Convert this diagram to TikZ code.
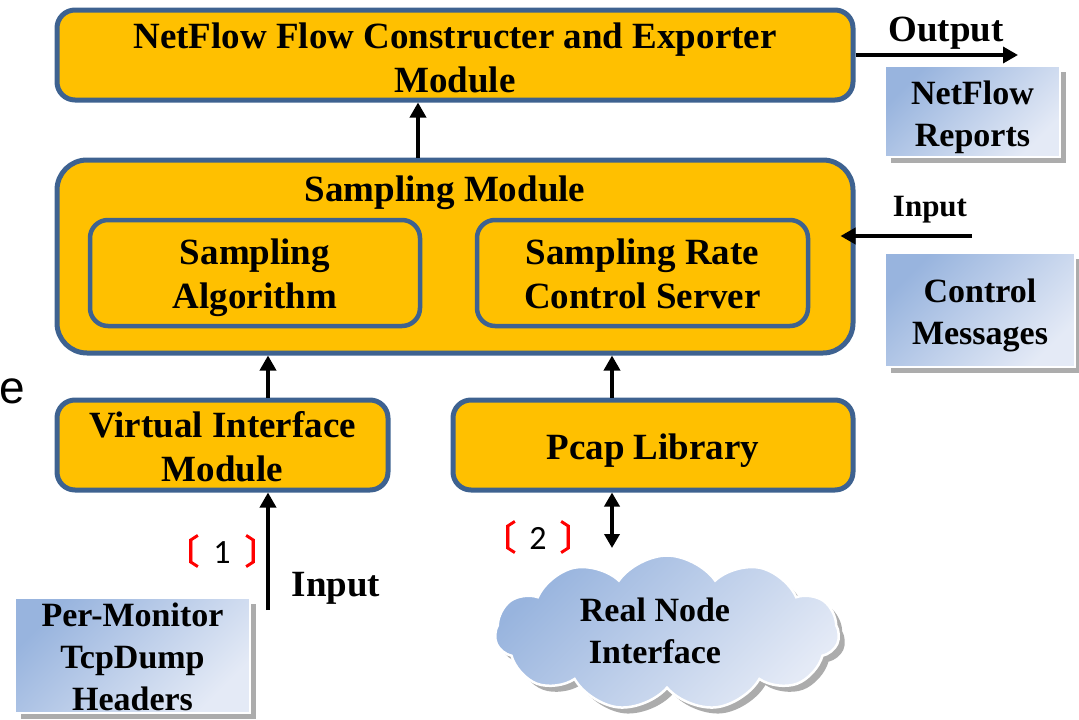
\documentclass[tikz,border=0pt]{standalone}
\usepackage{fontspec}
\setmainfont{Liberation Serif}
\setsansfont{Liberation Sans}
\newfontfamily\cjkfont[FakeBold=2.5]{Noto Sans CJK SC}
\newfontfamily\numfont{Carlito}
\usetikzlibrary{shapes.symbols,shadows,arrows.meta}

\definecolor{modfill}{HTML}{FFC000}
\definecolor{modline}{HTML}{3E6290}
\definecolor{skydark}{HTML}{98B4DE}
\definecolor{skylight}{HTML}{E4EAF6}

% invisible strut that lowers a centred text block
\newcommand\lowerby[1]{\rule{0pt}{#1}}
\newcommand\redbr[1]{{\color{red}\cjkfont\fontsize{34}{34}\selectfont #1}}

\tikzset{
  module/.style={draw=modline, line width=5pt, fill=modfill, rounded corners=18pt,
    inner sep=0pt, align=center, font=\fontsize{37}{44}\selectfont\bfseries},
  skyfill/.style={left color=skydark, right color=skylight, shading angle=45,
    drop shadow={shadow xshift=6pt, shadow yshift=-6pt, fill=gray!65, opacity=1}},
  note/.style={skyfill, draw=white, line width=2pt,
    inner sep=0pt, align=center, font=\fontsize{34}{42}\selectfont\bfseries},
  flow/.style={line width=3.5pt, -{Triangle[length=15pt,width=16pt]}},
  both/.style={line width=3.5pt, {Triangle[length=14pt,width=15pt]}-{Triangle[length=14pt,width=15pt]}},
  caption/.style={inner sep=0pt, align=center, font=\fontsize{37}{44}\selectfont\bfseries},
  tag/.style={inner sep=0pt, font=\numfont\fontsize{34}{34}\selectfont},
}

\begin{document}
\begin{tikzpicture}[x=1pt, y=-1pt]
\useasboundingbox (0,0) rectangle (1079,720);

% stray glyph at the left margin
\node[inner sep=0pt, anchor=west, font=\sffamily\fontsize{46}{46}\selectfont] (stray) at (-1,391) {e};

% main modules
\node[module, minimum width=796pt, minimum height=90pt] (top) at (455,55)
  {\lowerby{31pt}NetFlow Flow Constructer and Exporter\\Module};
\node[module, rounded corners=30pt, minimum width=796pt, minimum height=193pt] (samp) at (455,256.5) {};
\node[caption] (samptitle) at (445,193) {Sampling Module};
\node[module, line width=4.5pt, minimum width=330pt, minimum height=106pt] (alg) at (255,273)
  {\lowerby{36pt}Sampling\\Algorithm};
\node[module, line width=4.5pt, minimum width=331pt, minimum height=106pt] (rate) at (642.5,273)
  {\lowerby{28pt}Sampling Rate\\Control Server};
\node[module, minimum width=331pt, minimum height=90pt] (virt) at (222.5,445)
  {\lowerby{30pt}Virtual Interface\\Module};
\node[module, minimum width=400pt, minimum height=90pt] (pcap) at (653,445)
  {\lowerby{36pt}Pcap Library};

% side notes
\node[note, minimum width=175pt, minimum height=91pt] (rep) at (972.5,111.5)
  {\lowerby{36pt}NetFlow\\Reports};
\node[note, minimum width=190pt, minimum height=114pt] (ctl) at (980,310)
  {\lowerby{35pt}Control\\Messages};
\node[note, minimum width=235pt, minimum height=115pt] (pm) at (132.5,655)
  {\lowerby{27.5pt}Per-Monitor\\TcpDump\\Headers};

% network cloud
\node[cloud, cloud puffs=11, cloud puff arc=110, aspect=2.2, skyfill,
  draw=white, line width=2.5pt,
  minimum width=344pt, minimum height=155pt, inner sep=0pt] (cloud) at (667,633) {};
\node[caption, font=\fontsize{34}{42}\selectfont\bfseries] (cloudlbl) at (655,631)
  {Real Node\\Interface};

% connector end points
\coordinate (outend) at (1018,55);
\coordinate (ctlin) at (972,236);
\coordinate (pmin) at (268,610);
\coordinate (rnin) at (612,548);
\coordinate (topfoot) at ([xshift=-37pt]top.south);
\coordinate (vtop) at ([xshift=45.5pt]virt.north);
\coordinate (ptop) at ([xshift=-41pt]pcap.north);

% connectors
\draw[flow] (topfoot |- samp.north) -- (topfoot);
\draw[flow] (vtop) -- (vtop |- samp.south);
\draw[flow] (ptop) -- (ptop |- samp.south);
\draw[flow] (pmin) -- (pmin |- virt.south);
\draw[both] (rnin |- pcap.south) -- (rnin);
\draw[flow] (top.east |- outend) -- (outend);
\draw[flow, shorten >=-15pt] (ctlin) -- (ctlin -| samp.east);

% labels
\node[caption] (outlbl) at (946,33) {Output};
\node[caption, font=\fontsize{31}{36}\selectfont\bfseries] (inlbl) at (930,210) {Input};
\node[caption] (inlbl2) at (336,588) {Input};
\node[tag] (tag1) at (222,551)
  {\redbr{〔}\hspace{14pt}1\hspace{14pt}\redbr{〕}};
\node[tag] (tag2) at (538,537)
  {\redbr{〔}\hspace{13pt}2\hspace{13pt}\redbr{〕}};
\end{tikzpicture}
\end{document}
